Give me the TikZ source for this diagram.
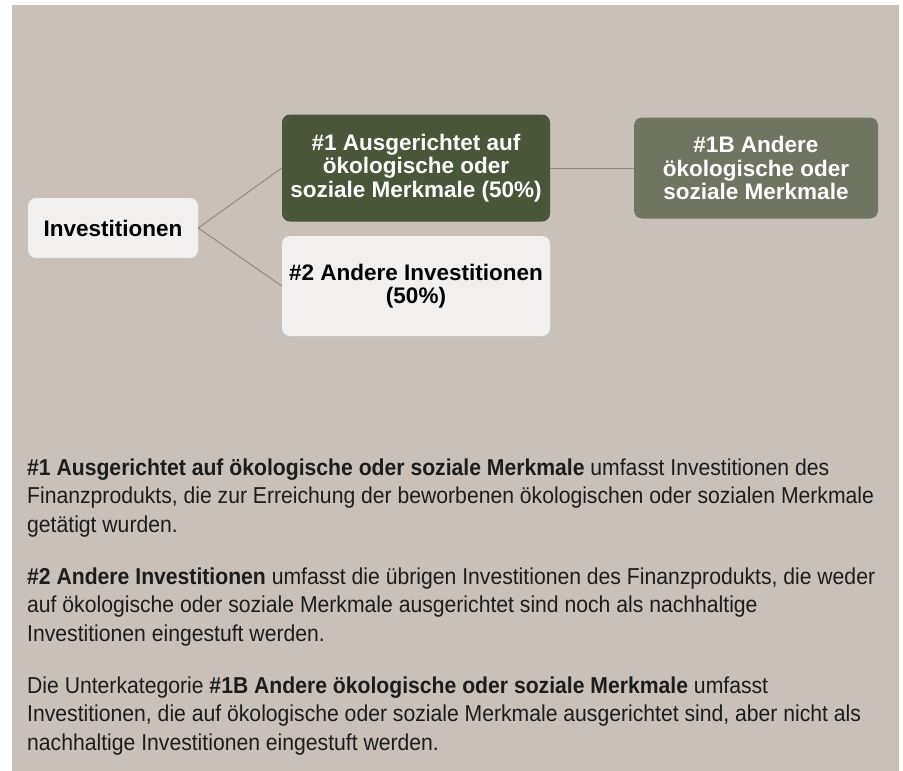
\documentclass[tikz,border=0pt]{standalone}
\usepackage{fontspec}
\setmainfont{Liberation Sans}
\newfontfamily\narrowfont[FakeStretch=0.92]{Liberation Sans}
\usepackage{xcolor}
\usetikzlibrary{positioning}

\definecolor{bgtaupe}{HTML}{CAC0BA}
\definecolor{darkolive}{HTML}{4A563A}
\definecolor{greyolive}{HTML}{707561}
\definecolor{lightbox}{HTML}{F2F0EE}
\definecolor{linkbrown}{HTML}{96877D}
\definecolor{bodyblack}{HTML}{1C1C1C}

\begin{document}
\begin{tikzpicture}[x=1pt, y=-1pt,
  box/.style={rounded corners=8pt, align=center, inner sep=0pt,
    font=\bfseries\fontsize{22.5}{23.5}\selectfont},
  link/.style={draw=linkbrown, line width=1pt},
  para/.style={anchor=base west, align=left, inner sep=0pt,
    font=\narrowfont\fontsize{23}{28.5}\selectfont, text=bodyblack}]
  % Hintergrund
  \useasboundingbox (0,0) rectangle (903,771);
  \fill[bgtaupe] (12,5) rectangle (899,771);

  % Kaesten
  \node[box, fill=lightbox, minimum width=170pt, minimum height=60pt] (inv) at (113,228) {Investitionen};
  \node[box, fill=darkolive, text=white, minimum width=268pt, minimum height=107pt] (one) at (416,168)
    {\#1 Ausgerichtet auf\\ökologische oder\\soziale Merkmale (50\%)};
  \node[box, fill=lightbox, minimum width=268pt, minimum height=100pt] (two) at (416,286)
    {\#2 Andere Investitionen\\(50\%)};
  \node[box, fill=greyolive, text=white, minimum width=244pt, minimum height=101pt] (oneb) at (756,168)
    {\#1B Andere\\ökologische oder\\soziale Merkmale};

  % Verbindungen
  \draw[link] (inv.east) -- (one.west);
  \draw[link] (inv.east) -- (two.west);
  \draw[link] (one.east) -- (oneb.west);

  % Erlaeuterungen (Position = Grundlinie der letzten Zeile)
  \node[para] (p1) at (27,532) {\textbf{\#1 Ausgerichtet auf ökologische oder soziale Merkmale} umfasst Investitionen des\\
    Finanzprodukts, die zur Erreichung der beworbenen ökologischen oder sozialen Merkmale\\
    getätigt wurden.};
  \node[para] (p2) at (27,641) {\textbf{\#2 Andere Investitionen} umfasst die übrigen Investitionen des Finanzprodukts, die weder\\
    auf ökologische oder soziale Merkmale ausgerichtet sind noch als nachhaltige\\
    Investitionen eingestuft werden.};
  \node[para] (p3) at (27,750) {Die Unterkategorie \textbf{\#1B Andere ökologische oder soziale Merkmale} umfasst\\
    Investitionen, die auf ökologische oder soziale Merkmale ausgerichtet sind, aber nicht als\\
    nachhaltige Investitionen eingestuft werden.};
\end{tikzpicture}
\end{document}
